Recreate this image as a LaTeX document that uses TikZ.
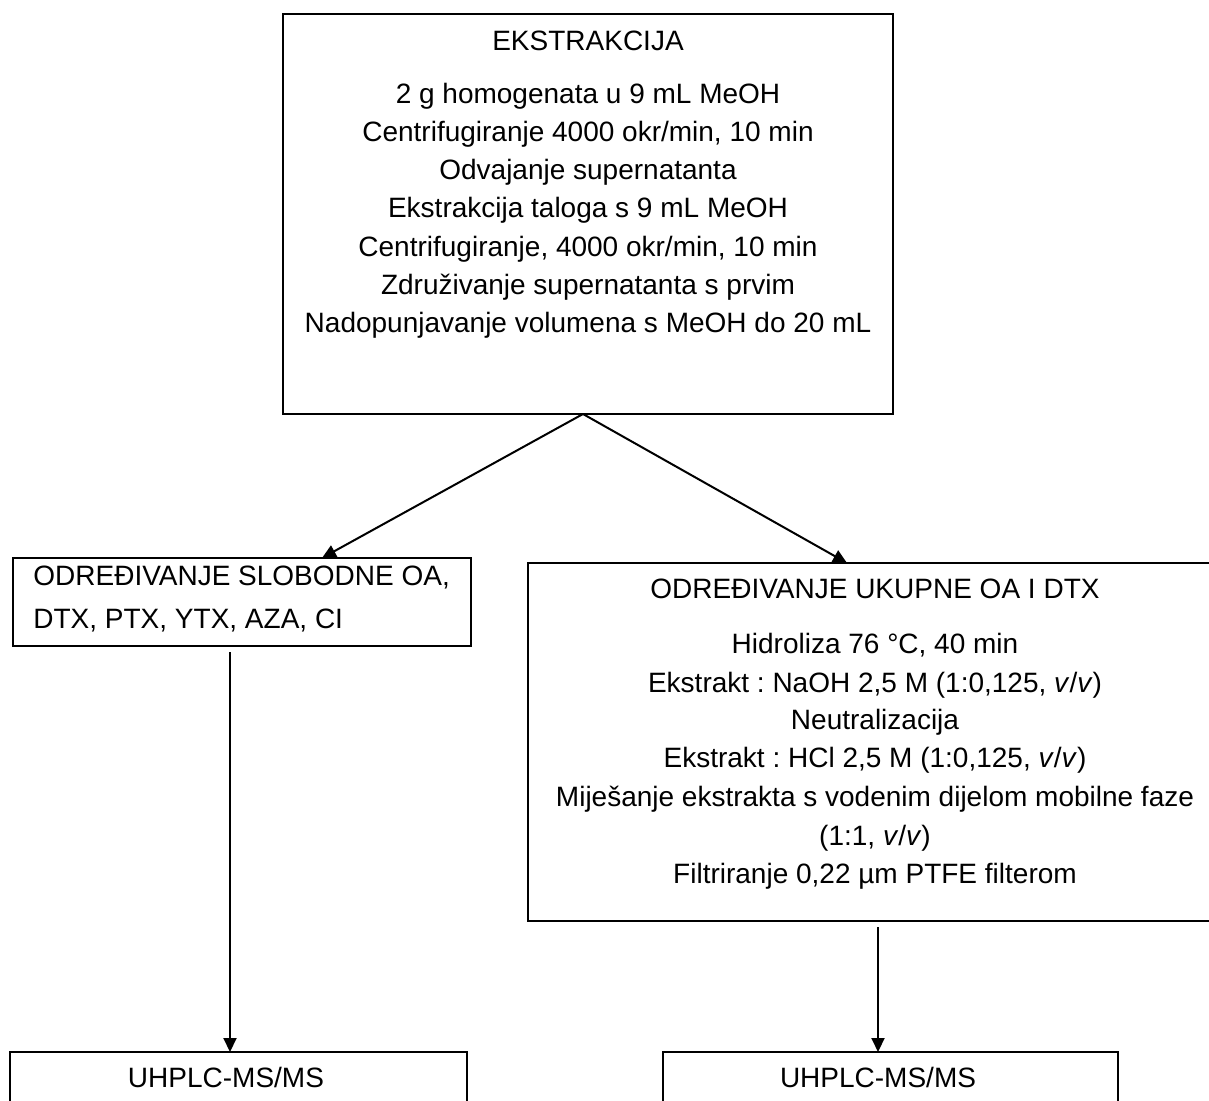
\documentclass[tikz,border=0pt]{standalone}
\usepackage{fontspec}
\setmainfont{Liberation Sans}
\usetikzlibrary{arrows.meta}
\frenchspacing
\begin{document}
\begin{tikzpicture}[x=0.5pt,y=-0.5pt,
  box/.style={draw,line width=1pt,inner sep=0pt,outer sep=0pt},
  txt/.style={anchor=base,inner sep=0pt,font=\fontsize{14pt}{17pt}\selectfont\frenchspacing},
  arr/.style={line width=1pt,-{Triangle[length=7pt,width=6.5pt]}}]
\clip (0,0) rectangle (1209,1101);
\fill[white] (0,0) rectangle (1209,1101);
% boxes
\node[box,minimum width=305pt,minimum height=200pt] (top) at (588,214) {};
\node[box,minimum width=229pt,minimum height=44pt] (lbox) at (242,602) {};
\node[box,minimum width=347pt,minimum height=179pt] (rbox) at (875,742) {};
\node[box,minimum width=228.5pt,minimum height=39pt] (lfin) at (238.5,1091) {};
\node[box,minimum width=227.5pt,minimum height=39pt] (rfin) at (890.5,1091) {};
% top box text
\node[txt] (t0) at (588,51) {EKSTRAKCIJA};
\node[txt] (t1) at (588,104) {2 g homogenata u 9 mL MeOH};
\node[txt] (t2) at (588,142) {Centrifugiranje 4000 okr/min, 10 min};
\node[txt] (t3) at (588,180) {Odvajanje supernatanta};
\node[txt] (t4) at (588,218) {Ekstrakcija taloga s 9 mL MeOH};
\node[txt] (t5) at (588,257) {Centrifugiranje, 4000 okr/min, 10 min};
\node[txt] (t6) at (588,295) {Združivanje supernatanta s prvim};
\node[txt] (t7) at (588,333) {Nadopunjavanje volumena s MeOH do 20 mL};
% left box text
\node[txt,anchor=base west] (l1) at (33,585) {ODREĐIVANJE SLOBODNE OA,};
\node[txt,anchor=base west] (l2) at (33,628) {DTX, PTX, YTX, AZA, CI};
% right box text
\node[txt] (r0) at (875,598) {ODREĐIVANJE UKUPNE OA I DTX};
\node[txt] (r1) at (875,653) {Hidroliza 76 °C, 40 min};
\node[txt] (r2) at (875,692) {Ekstrakt : NaOH 2,5 M (1:0,125, \textit{v}/\textit{v})};
\node[txt] (r3) at (875,729) {Neutralizacija};
\node[txt] (r4) at (875,767) {Ekstrakt : HCl 2,5 M (1:0,125, \textit{v}/\textit{v})};
\node[txt] (r5) at (875,806) {Miješanje ekstrakta s vodenim dijelom mobilne faze};
\node[txt] (r6) at (875,845) {(1:1, \textit{v}/\textit{v})};
\node[txt] (r7) at (875,883) {Filtriranje 0,22 µm PTFE filterom};
% bottom texts
\node[txt] (b1) at (226,1087) {UHPLC-MS/MS};
\node[txt] (b2) at (878,1087) {UHPLC-MS/MS};
% connectors
\draw[arr] ([xshift=-2.5pt]top.south) -- ([xshift=40pt]lbox.north);
\draw[arr] ([xshift=-2.5pt]top.south) -- ([xshift=-14pt]rbox.north);
\draw[arr,shorten <=3pt] ([xshift=-6pt]lbox.south) -- ([xshift=-6pt]lbox.south |- lfin.north);
\draw[arr,shorten <=3pt] ([xshift=1.5pt]rbox.south) -- ([xshift=1.5pt]rbox.south |- rfin.north);
\end{tikzpicture}
\end{document}
